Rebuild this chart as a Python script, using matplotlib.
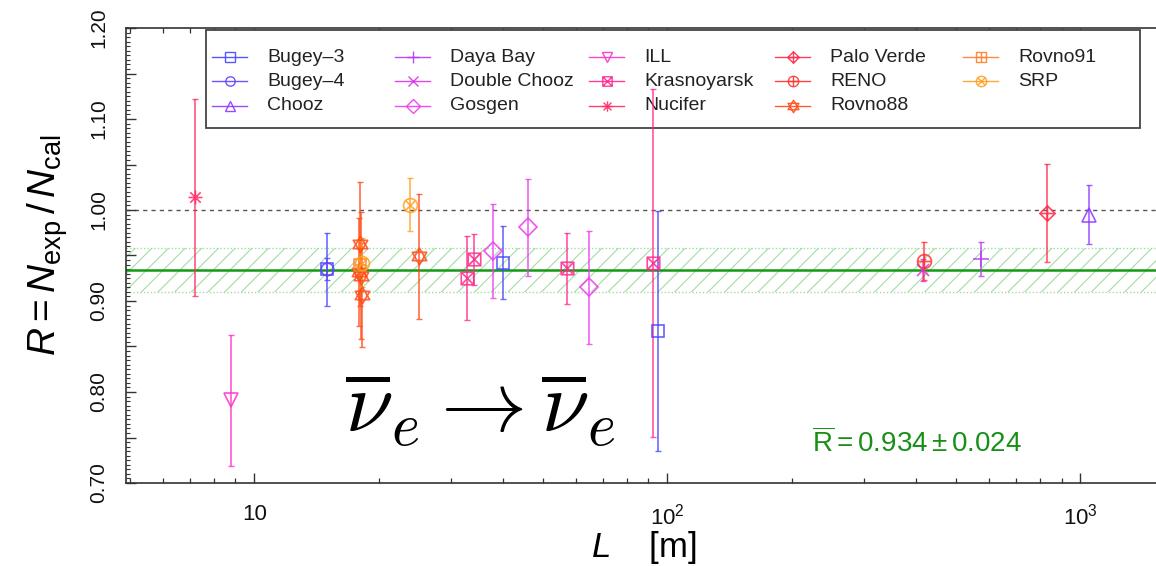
import matplotlib
matplotlib.use("Agg")
import matplotlib.pyplot as plt
from matplotlib.path import Path
from matplotlib.lines import Line2D
from matplotlib.patches import Rectangle
from matplotlib.ticker import FixedLocator, MultipleLocator, FuncFormatter, NullFormatter

plt.rcParams['font.family'] = ['Liberation Sans', 'DejaVu Sans']
plt.rcParams['mathtext.fontset'] = 'custom'
plt.rcParams['mathtext.rm'] = 'Liberation Sans'
plt.rcParams['mathtext.it'] = 'Liberation Sans:italic'
plt.rcParams['mathtext.bf'] = 'Liberation Sans:bold'
plt.rcParams['hatch.linewidth'] = 0.8

# ---- measured ratios R = N_exp / N_cal versus baseline L [m] ----
bugey3_L = [15.0, 40.0, 95.0]
bugey3_R = [0.935, 0.942, 0.867]
bugey3_err = [0.040, 0.040, 0.132]

bugey4_L = [15.0]
bugey4_R = [0.935]
bugey4_err = [0.012]

chooz_L = [1050.0]
chooz_R = [0.995]
chooz_err = [0.032]

dayabay_L = [573.0]
dayabay_R = [0.946]
dayabay_err = [0.019]

doublechooz_L = [415.0]
doublechooz_R = [0.934]
doublechooz_err = [0.012]

gosgen_L = [37.9, 45.9, 64.7]
gosgen_R = [0.955, 0.981, 0.915]
gosgen_err = [0.052, 0.053, 0.062]

ill_L = [8.76]
ill_R = [0.791]
ill_err = [0.072]

krasnoyarsk_L = [32.8, 34.0, 57.0, 92.3]
krasnoyarsk_R = [0.925, 0.946, 0.936, 0.942]
krasnoyarsk_err = [0.046, 0.028, 0.039, 0.191]

nucifer_L = [7.2]
nucifer_R = [1.014]
nucifer_err = [0.108]

paloverde_L = [830.0]
paloverde_R = [0.997]
paloverde_err = [0.054]

reno_L = [419.0]
reno_R = [0.944]
reno_err = [0.021]

rovno88_L = [18.0, 17.96, 18.15, 18.18, 25.0]
rovno88_R = [0.963, 0.932, 0.928, 0.907, 0.949]
rovno88_err = [0.068, 0.059, 0.070, 0.057, 0.069]

rovno91_L = [18.0]
rovno91_R = [0.940]
rovno91_err = [0.028]

srp_L = [18.2, 23.8]
srp_R = [0.942, 1.006]
srp_err = [0.027, 0.029]

r_mean = 0.934
r_mean_err = 0.024

# ---- marker shapes ----
def lines_path(segments):
    verts, codes = [], []
    for (a, b) in segments:
        verts += [a, b]
        codes += [Path.MOVETO, Path.LINETO]
    return Path(verts, codes)

square = Path([(-1, -1), (1, -1), (1, 1), (-1, 1), (-1, -1)],
              [Path.MOVETO, Path.LINETO, Path.LINETO, Path.LINETO, Path.CLOSEPOLY])
diamond = Path([(0, 1.3), (1.3, 0), (0, -1.3), (-1.3, 0), (0, 1.3)],
               [Path.MOVETO, Path.LINETO, Path.LINETO, Path.LINETO, Path.CLOSEPOLY])
circle = Path.unit_circle()
plus_lines = lines_path([((-1, 0), (1, 0)), ((0, -1), (0, 1))])
cross_lines = lines_path([((-0.75, -0.75), (0.75, 0.75)), ((-0.75, 0.75), (0.75, -0.75))])
sq_cross = lines_path([((-1, -1), (1, 1)), ((-1, 1), (1, -1))])
diam_plus = lines_path([((-1.3, 0), (1.3, 0)), ((0, -1.3), (0, 1.3))])
tri_up = Path([(0, 1), (0.866, -0.5), (-0.866, -0.5), (0, 1)],
              [Path.MOVETO, Path.LINETO, Path.LINETO, Path.CLOSEPOLY])
tri_dn = Path([(0, -1), (0.866, 0.5), (-0.866, 0.5), (0, -1)],
              [Path.MOVETO, Path.LINETO, Path.LINETO, Path.CLOSEPOLY])

m_sq_x = Path.make_compound_path(square, sq_cross)
m_sq_plus = Path.make_compound_path(square, plus_lines)
m_star = Path.make_compound_path(plus_lines, cross_lines)
m_diam_plus = Path.make_compound_path(diamond, diam_plus)
m_circ_plus = Path.make_compound_path(circle, plus_lines)
m_circ_x = Path.make_compound_path(circle, cross_lines)
m_hexagram = Path.make_compound_path(tri_up, tri_dn)

series = [
    ("Bugey\u20133", bugey3_L, bugey3_R, bugey3_err, 's', '#4646ff', 9),
    ("Bugey\u20134", bugey4_L, bugey4_R, bugey4_err, 'o', '#6040ff', 9),
    ("Chooz", chooz_L, chooz_R, chooz_err, '^', '#9038ff', 10),
    ("Daya Bay", dayabay_L, dayabay_R, dayabay_err, '+', '#b838f8', 12),
    ("Double Chooz", doublechooz_L, doublechooz_R, doublechooz_err, 'x', '#dc30ec', 9),
    ("Gosgen", gosgen_L, gosgen_R, gosgen_err, 'D', '#f038f0', 9),
    ("ILL", ill_L, ill_R, ill_err, 'v', '#ff30c4', 10),
    ("Krasnoyarsk", krasnoyarsk_L, krasnoyarsk_R, krasnoyarsk_err, m_sq_x, '#ff2890', 9),
    ("Nucifer", nucifer_L, nucifer_R, nucifer_err, m_star, '#ff2a64', 10),
    ("Palo Verde", paloverde_L, paloverde_R, paloverde_err, m_diam_plus, '#ff2a48', 11),
    ("RENO", reno_L, reno_R, reno_err, m_circ_plus, '#ff3030', 10),
    ("Rovno88", rovno88_L, rovno88_R, rovno88_err, m_hexagram, '#ff4a18', 12),
    ("Rovno91", rovno91_L, rovno91_R, rovno91_err, m_sq_plus, '#ff8028', 9),
    ("SRP", srp_L, srp_R, srp_err, m_circ_x, '#ffa020', 10),
]

FIG_W, FIG_H = 1156, 566
AX_L, AX_R, AX_T, AX_B = 126, 1156, 28, 483

fig = plt.figure(figsize=(FIG_W / 100, FIG_H / 100), dpi=100)
ax = fig.add_axes([AX_L / FIG_W, 1 - AX_B / FIG_H,
                   (AX_R - AX_L) / FIG_W, (AX_B - AX_T) / FIG_H])
ax.set_xscale('log')
ax.set_xlim(4.89, 1524)
ax.set_ylim(0.70, 1.20)


def ax_xy(px, py):
    """pixel position in the figure -> axes fraction"""
    return (px - AX_L) / (AX_R - AX_L), (AX_B - py) / (AX_B - AX_T)


# average ratio with its uncertainty band
ax.axhspan(r_mean - r_mean_err, r_mean + r_mean_err, facecolor='none',
           edgecolor='#a4dca4', hatch='//', linewidth=0, zorder=1)
for yb in (r_mean - r_mean_err, r_mean + r_mean_err):
    ax.axhline(yb, color='#a4dca4', lw=1.0, ls=(0, (1, 1.5)), zorder=1)
ax.axhline(r_mean, color='#149a14', lw=1.8, zorder=2)
ax.axhline(1.0, color='#555555', lw=1.0, ls=(0, (3, 3)), zorder=1)

for name, L, R, err, mk, col, ms in series:
    ax.errorbar(L, R, yerr=err, fmt='none', ecolor=col, elinewidth=1.2,
                capsize=2.5, capthick=1.0, alpha=0.8, zorder=4)
    ax.plot(L, R, ls='none', marker=mk, ms=ms, mfc='none', mec=col,
            mew=1.2, alpha=0.85, zorder=5)

# legend box: five columns, three rows
x0, y0 = ax_xy(206, 30)
x1, y1 = ax_xy(1140, 128)
ax.add_patch(Rectangle((x0, y1), x1 - x0, y0 - y1, transform=ax.transAxes,
                       facecolor='white', edgecolor='#444444', lw=1.3,
                       zorder=3, clip_on=False))
col_starts = [212, 395, 589, 775, 963]
row_ys = [57, 81, 106]
for i, (name, L, R, err, mk, col, ms) in enumerate(series):
    c, r = divmod(i, 3)
    xs, yy = col_starts[c], row_ys[r]
    (ha0, vy), (ha1, _) = ax_xy(xs, yy), ax_xy(xs + 35, yy)
    ax.add_line(Line2D([ha0, ha1], [vy, vy], transform=ax.transAxes, color=col,
                       lw=1.0, alpha=0.9, zorder=3.2, clip_on=False))
    ax.add_line(Line2D([(ha0 + ha1) / 2], [vy], transform=ax.transAxes, ls='none',
                       marker=mk, ms=ms * 0.75, mfc='none', mec=col, mew=1.0,
                       alpha=0.9, zorder=3.2, clip_on=False))
    tx, ty = ax_xy(xs + 55, yy)
    ax.text(tx, ty, name, transform=ax.transAxes, fontsize=14.0,
            color='#222222', ha='left', va='center', zorder=3.3)

# axes styling
for side in ('left', 'bottom', 'top'):
    ax.spines[side].set_linewidth(1.2)
    ax.spines[side].set_color('#333333')
ax.spines['right'].set_visible(False)

ax.xaxis.set_major_locator(FixedLocator([10, 100, 1000]))
ax.xaxis.set_major_formatter(FuncFormatter(
    lambda v, p: {10: '10', 100: r'$10^2$', 1000: r'$10^3$'}.get(int(round(v)), '')))
ax.xaxis.set_minor_locator(FixedLocator(
    [m * d for d in (1, 10, 100, 1000) for m in range(2, 10)]))
ax.xaxis.set_minor_formatter(NullFormatter())

ax.yaxis.set_major_locator(MultipleLocator(0.05))
ax.yaxis.set_major_formatter(FuncFormatter(
    lambda v, p: f"{v:.2f}" if round(v * 100) % 10 == 0 else ''))
ax.yaxis.set_minor_locator(MultipleLocator(0.005))

ax.tick_params(which='both', direction='in', top=True, right=False,
               color='#333333', labelcolor='#111111')
ax.tick_params(axis='x', which='major', length=7, width=1.0, pad=15, labelsize=16)
ax.tick_params(axis='x', which='minor', length=3.5, width=0.9)
ax.tick_params(axis='y', which='major', length=7, width=1.0, pad=13, labelsize=15)
ax.tick_params(axis='y', which='minor', length=3.2, width=0.8)
for lab in ax.get_yticklabels():
    lab.set_rotation(90)
    lab.set_va('center')

ax.set_ylabel(r'$R = N_{\mathrm{exp}}\,/\,N_{\mathrm{cal}}$', fontsize=28, va='center')
ax.yaxis.set_label_coords(-78 / 1030, 0.523)
ax.set_xlabel(r'$L$    [m]', fontsize=25, va='center')
ax.xaxis.set_label_coords(0.503, -0.142)

ax.text(0.344, 0.16, r'$\overline{\nu}_e \rightarrow \overline{\nu}_e$',
        transform=ax.transAxes, fontsize=62, ha='center', va='center',
        math_fontfamily='cm', color='black')
ax.text(0.666, 0.088,
        r'$\overline{\mathrm{R}} = %.3f \pm %.3f$' % (r_mean, r_mean_err),
        transform=ax.transAxes, fontsize=20, ha='left', va='center',
        color='#189018')

fig.savefig('out.png', dpi=100)
